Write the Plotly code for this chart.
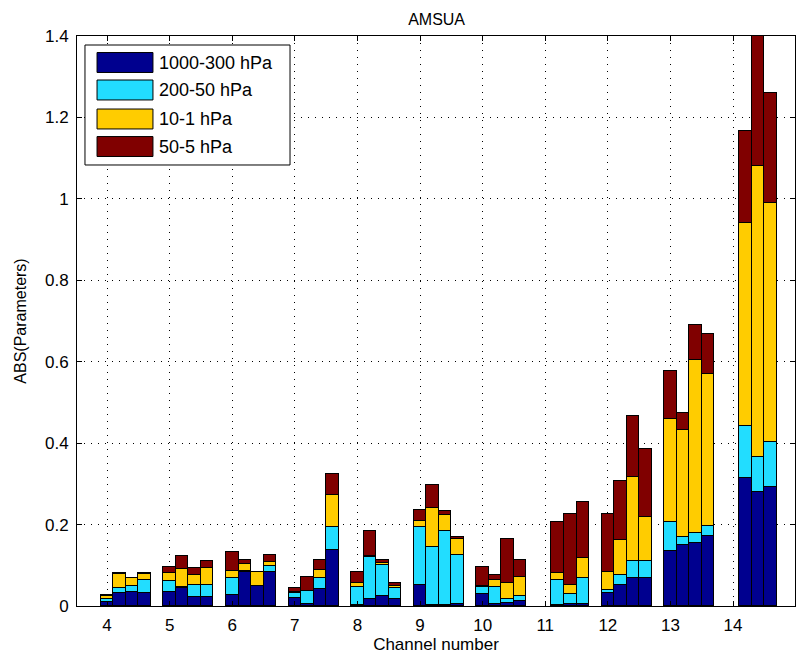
import plotly.graph_objects as go

channels = [4, 5, 6, 7, 8, 9, 10, 11, 12, 13, 14]
series_names = ["1000-300 hPa", "200-50 hPa", "10-1 hPa", "50-5 hPa"]
series_colors = ["#00008F", "#22DDFF", "#FFCC00", "#800000"]

# four bars per channel (None = no bar)
low_1000_300 = [
    [0.011, 0.031, 0.034, 0.031],
    [0.035, 0.044, 0.022, 0.022],
    [0.027, 0.084, 0.049, 0.084],
    [0.019, 0.006, 0.041, 0.137],
    [0.002, 0.016, 0.025, 0.016],
    [0.052, 0.003, 0.002, 0.006],
    [0.029, 0.006, 0.008, 0.013],
    [None, 0.002, 0.005, 0.005],
    [0.031, 0.052, 0.068, 0.068],
    [0.136, 0.150, 0.155, 0.172],
    [None, 0.315, 0.279, 0.293],
]
mid_200_50 = [
    [0.006, 0.012, 0.014, 0.034],
    [0.026, 0.003, 0.029, 0.029],
    [0.043, 0.002, 0.000, 0.014],
    [0.014, 0.031, 0.029, 0.056],
    [0.045, 0.105, 0.075, 0.027],
    [0.142, 0.141, 0.183, 0.119],
    [0.017, 0.041, 0.008, 0.011],
    [None, 0.062, 0.024, 0.063],
    [0.008, 0.025, 0.042, 0.042],
    [0.071, 0.020, 0.025, 0.024],
    [None, 0.128, 0.087, 0.109],
]
high_10_1 = [
    [0.007, 0.036, 0.021, 0.014],
    [0.020, 0.043, 0.026, 0.043],
    [0.016, 0.016, 0.035, 0.011],
    [0.002, 0.000, 0.018, 0.079],
    [0.010, 0.003, 0.006, 0.007],
    [0.016, 0.096, 0.038, 0.039],
    [0.004, 0.017, 0.041, 0.048],
    [None, 0.016, 0.022, 0.051],
    [0.045, 0.084, 0.206, 0.108],
    [0.252, 0.262, 0.425, 0.375],
    [None, 0.498, 0.714, 0.589],
]
strat_50_5 = [
    [0.002, 0.001, 0.001, 0.001],
    [0.016, 0.033, 0.016, 0.016],
    [0.047, 0.011, 0.000, 0.016],
    [0.008, 0.034, 0.026, 0.052],
    [0.026, 0.059, 0.008, 0.006],
    [0.025, 0.057, 0.011, 0.006],
    [0.045, 0.012, 0.107, 0.042],
    [None, 0.127, 0.174, 0.137],
    [0.141, 0.145, 0.150, 0.167],
    [0.118, 0.042, 0.085, 0.096],
    [None, 0.225, 0.330, 0.269],
]

bar_offsets = [0.0, 0.2, 0.4, 0.6]
bar_width = 0.2
FONT = "Liberation Sans, Arial, Helvetica, sans-serif"

fig = go.Figure()
all_series = [low_1000_300, mid_200_50, high_10_1, strat_50_5]
xs = [ch + off for ch in channels for off in bar_offsets]
for name, color, data in zip(series_names, series_colors, all_series):
    ys = [v for row in data for v in row]
    fig.add_trace(go.Bar(
        x=xs, y=ys, name=name, width=bar_width,
        marker=dict(color=color, line=dict(color="black", width=1)),
        showlegend=False,
    ))

# custom MATLAB-like legend (paper coordinates)
fig.add_shape(type="rect", xref="paper", yref="paper",
              x0=0.0111, x1=0.2967, y0=0.7737, y1=0.9842,
              line=dict(color="black", width=1), fillcolor="white", layer="above")
row_centers = [0.9535, 0.9053, 0.8544, 0.8061]
for name, color, yc in zip(series_names, series_colors, row_centers):
    fig.add_shape(type="rect", xref="paper", yref="paper",
                  x0=0.0279, x1=0.1058, y0=yc - 0.0175, y1=yc + 0.0175,
                  line=dict(color="black", width=1), fillcolor=color, layer="above")
    fig.add_annotation(xref="paper", yref="paper", x=0.1115, y=yc,
                       text=name, showarrow=False, xanchor="left", yanchor="middle",
                       font=dict(family=FONT, size=18, color="black"))

fig.update_layout(
    width=796, height=662,
    margin=dict(l=77, r=1, t=36, b=56),
    paper_bgcolor="white", plot_bgcolor="white",
    barmode="stack", bargap=0,
    font=dict(family=FONT, size=17, color="black"),
    title=dict(text="AMSUA", x=0.5485, xanchor="center", y=1 - 19 / 662,
               yanchor="middle", yref="container",
               font=dict(family=FONT, size=16, color="black")),
)
fig.update_xaxes(
    range=[3.52, 14.99], tickmode="array", tickvals=channels,
    ticktext=[str(c) for c in channels],
    showline=True, linecolor="black", linewidth=1, mirror="ticks",
    ticks="inside", ticklen=5, tickcolor="black",
    showgrid=True, gridcolor="black", gridwidth=1, griddash="1px,6px",
    zeroline=False, ticklabelstandoff=4,
    title=dict(text="Channel number", standoff=1,
               font=dict(family=FONT, size=17)),
)
fig.update_yaxes(
    range=[0, 1.4], tickmode="array",
    tickvals=[0, 0.2, 0.4, 0.6, 0.8, 1.0, 1.2, 1.4],
    ticktext=["0", "0.2", "0.4", "0.6", "0.8", "1", "1.2", "1.4"],
    showline=True, linecolor="black", linewidth=1, mirror="ticks",
    ticks="inside", ticklen=5, tickcolor="black",
    showgrid=True, gridcolor="black", gridwidth=1, griddash="1px,6px",
    zeroline=False, ticklabelstandoff=4,
    title=dict(text="ABS(Parameters)", standoff=14,
               font=dict(family=FONT, size=16)),
)

fig.write_html("out.html")
